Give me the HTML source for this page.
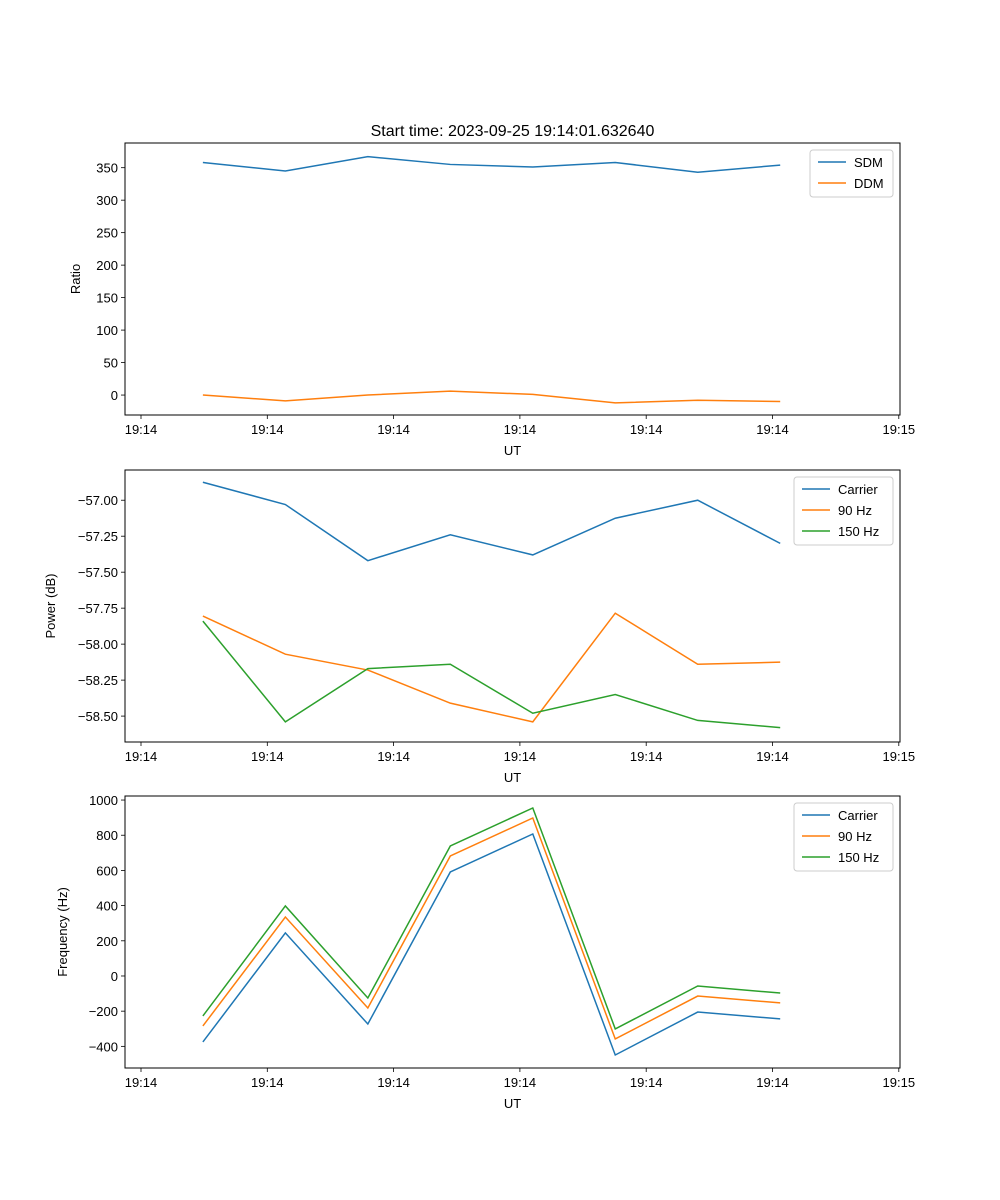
<!DOCTYPE html>
<html><head><meta charset="utf-8"><style>
body{margin:0;background:#fff}
svg{display:block;font-family:"Liberation Sans","DejaVu Sans",sans-serif}
</style></head><body>
<svg id="fig" width="1000" height="1200" xmlns="http://www.w3.org/2000/svg">
<rect width="1000" height="1200" fill="#fff"/>
<text x="512.5" y="136" font-size="16" text-anchor="middle">Start time: 2023-09-25 19:14:01.632640</text>
</svg>
<script>
// x data in tick units (ticks every 1 unit)
const times = [0.49, 1.143, 1.796, 2.449, 3.102, 3.755, 4.408, 5.061];
const xTickLabels = ["19:14","19:14","19:14","19:14","19:14","19:14","19:15"];
const sdm = [358, 345, 367, 355, 351, 358, 343, 354];
const ddm = [0, -9, 0, 6, 1, -12, -8, -10];
const powCarrier = [-56.875, -57.03, -57.42, -57.24, -57.38, -57.125, -57.0, -57.30];
const pow90 = [-57.805, -58.07, -58.18, -58.41, -58.54, -57.785, -58.14, -58.125];
const pow150 = [-57.84, -58.54, -58.17, -58.14, -58.48, -58.35, -58.53, -58.58];
const freqCarrier = [-375, 245, -273, 591, 807, -449, -205, -244];
const freq90 = [-284, 335, -182, 682, 898, -358, -114, -153];
const freq150 = [-227, 398, -125, 739, 955, -301, -57, -97];
const ratioTicks = [0,50,100,150,200,250,300,350];
const powTicks = [-58.5,-58.25,-58,-57.75,-57.5,-57.25,-57];
const freqTicks = [-400,-200,0,200,400,600,800,1000];

const NS="http://www.w3.org/2000/svg";
const svg=document.getElementById('fig');
const C=['#1f77b4','#ff7f0e','#2ca02c'];
function mk(tag,attrs,parent){const e=document.createElementNS(NS,tag);for(const k in attrs)e.setAttribute(k,attrs[k]);(parent||svg).appendChild(e);return e;}

function panel(cfg){
  const L=125,R=900,T=cfg.top,B=cfg.top+272;
  const g=mk('g',{});
  
  
  const xs=v=>141+v*126.3;
  const ys=v=>B-(v-cfg.ymin)/(cfg.ymax-cfg.ymin)*(B-T);
  xTickLabels.forEach((lab,i)=>{
    const x=xs(i);
    mk('line',{x1:x,x2:x,y1:B,y2:B+4,stroke:'#000','stroke-width':0.8},g);
    const t=mk('text',{x:x,y:B+19,'font-size':13,'text-anchor':'middle'},g);t.textContent=lab;
    
    
  });
  cfg.ticks.forEach(v=>{
    const y=ys(v);
    mk('line',{x1:L-4,x2:L,y1:y,y2:y,stroke:'#000','stroke-width':0.8},g);
    const t=mk('text',{x:L-7,y:y+5,'font-size':13,'text-anchor':'end'},g);t.textContent=cfg.fmt(v);
    
    
  });
  cfg.series.forEach((s,k)=>{
    const p=mk('polyline',{points:s.data.map((v,i)=>xs(times[i])+','+ys(v)).join(' '),fill:'none',stroke:C[k],'stroke-width':1.5},g);
    
    
  });
  mk('rect',{x:L,y:T,width:R-L,height:B-T,fill:'none',stroke:'#000','stroke-width':1},g);
  const xt=mk('text',{x:512.5,y:B+40,'font-size':13,'text-anchor':'middle'},g);xt.textContent='UT';
  
  
  const yt=mk('text',{x:0,y:0,'font-size':13,'text-anchor':'middle',transform:`translate(${cfg.ytx},${(T+B)/2}) rotate(-90)`},g);yt.textContent=cfg.ylabel;
  
  
  // legend
  const lw=cfg.legW, n=cfg.series.length, lx=893-lw, ly=T+7;
  const lg=mk('g',{},g);
  
  
  mk('rect',{x:lx,y:ly,width:lw,height:5+n*21,rx:3,fill:'#fff','fill-opacity':0.8,stroke:'#ccc'},lg);
  cfg.series.forEach((s,k)=>{
    const y=ly+12+k*21;
    mk('line',{x1:lx+8,x2:lx+36,y1:y,y2:y,stroke:C[k],'stroke-width':1.5},lg);
    const t=mk('text',{x:lx+44,y:y+5,'font-size':13},lg);t.textContent=s.label;
    
    
  });
}
panel({name:'ratio-panel',top:143,ymin:-30.7,ymax:388,ticks:ratioTicks,fmt:v=>String(v),ylabel:'Ratio',ytx:80,legW:83,
  series:[{label:'SDM',data:sdm},{label:'DDM',data:ddm}]});
panel({name:'power-panel',top:470,ymin:-58.68,ymax:-56.79,ticks:powTicks,fmt:v=>v.toFixed(2).replace('-','−'),ylabel:'Power (dB)',ytx:55,legW:99,
  series:[{label:'Carrier',data:powCarrier},{label:'90 Hz',data:pow90},{label:'150 Hz',data:pow150}]});
panel({name:'frequency-panel',top:796,ymin:-523,ymax:1023,ticks:freqTicks,fmt:v=>String(v).replace('-','−'),ylabel:'Frequency (Hz)',ytx:67,legW:99,
  series:[{label:'Carrier',data:freqCarrier},{label:'90 Hz',data:freq90},{label:'150 Hz',data:freq150}]});
</script>
</body></html>
